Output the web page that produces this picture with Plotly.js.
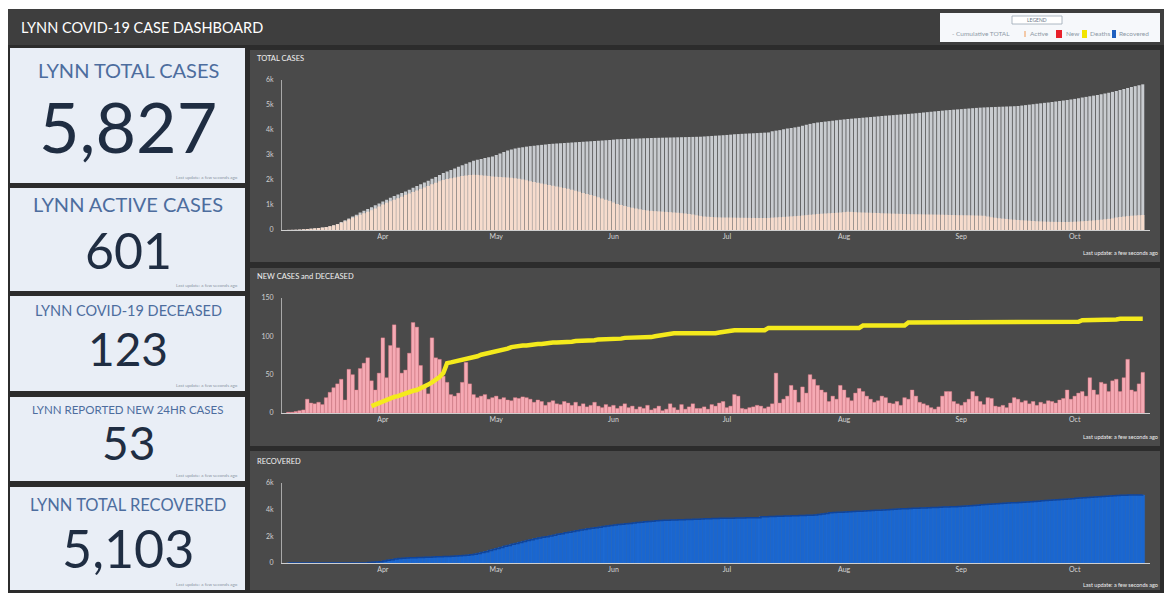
<!DOCTYPE html>
<html><head><meta charset="utf-8">
<script src="https://cdn.plot.ly/plotly-3.0.1.min.js"></script>
<style>html,body{margin:0;padding:0;background:#fff;overflow:hidden}#chart{width:1164px;height:593px}</style>
</head><body><div id="chart"></div>
<script>
// ---------- DATA (daily, starting 2020-03-07) ----------
const startDate = [2020, 2, 7];

const totalCases = [4,7,11,17,28,40,52,66,80,98,118,
150,190,240,320,
390,460,540,610,700,
770,840,910,990,
1060,1140,1210,1290,1360,
1420,1480,1540,1610,
1690,1760,1830,1900,1970,
2050,2120,2200,2280,
2340,2400,2460,2530,
2590,2650,2710,2770,2810,
2840,2880,2910,2940,
3000,3060,3120,3180,3220,
3260,3290,3310,3335,
3355,3370,3390,3405,3420,3440,
3450,3460,3470,3480,3490,3500,3510,3520,3530,
3540,3550,3560,3570,3580,3590,3600,3615,3630,
3635,3640,3645,3650,3656,3662,3668,3674,3680,
3684,3688,3692,3696,3700,3704,3708,3712,3716,3720,3724,3728,3732,
3742,3752,3762,3772,3782,3792,3802,3815,3830,
3838,3846,3854,3862,3870,3878,3886,3894,3902,
3950,3975,3995,4030,4060,4080,4105,4130,
4170,4210,4245,4275,4300,
4318,4336,4354,4372,4390,4408,4424,4440,
4453,4466,4479,4492,4505,4518,4531,4545,4560,
4572,4584,4596,4608,4620,4632,4644,4656,4670,
4685,4700,4715,4730,4745,4760,4775,4790,4800,
4812,4824,4836,4848,4860,4872,4884,4895,4903,
4910,4916,4922,4928,4934,4940,4946,4952,4960,
4978,4996,5014,5032,5050,5068,5086,5100,
5120,5140,5160,5180,5200,5222,5245,5270,5300,
5325,5350,5375,5400,5430,5460,5490,5525,5560,
5600,5640,5680,5720,5755,5790,5827];

const activeCases = [4,7,11,17,28,40,52,66,80,98,118,
150,185,230,290,
350,420,490,550,610,
670,730,790,860,
940,1020,1090,1150,1210,
1270,1330,1400,1460,
1520,1580,1640,1700,1760,
1830,1890,1950,2000,
2040,2070,2100,2130,
2160,2180,2200,2210,2205,
2190,2175,2160,2140,
2130,2120,2110,2100,2090,
2070,2050,2020,1990,
1950,1920,1890,1860,1830,1800,
1770,1740,1710,1680,1650,1610,1570,1530,1480,
1440,1400,1360,1310,1260,1210,1160,1100,1040,
1000,960,920,890,860,830,800,780,765,
755,745,735,725,715,700,690,675,660,640,620,590,560,
540,530,520,510,505,500,500,498,495,
492,490,488,486,484,482,480,480,482,
495,505,515,525,535,545,555,565,
580,595,610,625,640,
650,660,670,680,690,700,715,730,
725,715,705,700,695,690,685,680,670,
665,660,655,650,645,640,635,632,630,
628,625,622,620,618,615,612,608,600,
598,595,592,590,588,585,580,575,570,
540,510,490,470,455,440,425,412,400,
390,380,370,360,350,345,338,332,
328,325,322,320,322,326,332,340,350,
360,372,385,398,412,428,445,465,500,
520,540,555,570,580,592,601];

const newCases = [1,1,2,3,4,18,13,12,14,11,
20,27,33,38,44,17,57,50,30,58,
65,72,42,30,52,98,46,88,115,85,
52,56,78,118,112,62,36,25,98,72,
70,48,40,24,22,26,40,66,38,24,
20,22,24,18,20,22,18,20,17,16,
20,19,21,20,18,14,17,15,10,14,
16,12,11,15,13,10,14,9,12,8,
10,14,9,7,11,8,10,6,9,12,
7,9,5,8,6,10,4,6,9,3,
5,12,7,4,11,5,8,12,6,6,
8,5,11,9,13,15,7,9,24,22,
6,5,7,8,10,9,6,8,12,52,
13,18,22,36,30,14,34,26,50,44,
36,30,27,15,22,18,36,30,20,16,
26,32,28,22,18,14,16,22,20,13,
12,15,10,20,18,30,22,14,12,10,
7,5,8,22,28,28,15,12,10,14,
18,28,22,15,11,20,19,9,8,10,
7,13,20,18,14,16,12,15,10,14,
12,16,15,13,17,19,30,18,22,26,
28,22,46,30,24,40,38,28,42,44,
28,46,70,30,28,38,53];

const deaths = [null,null,null,null,null,null,null,null,null,null,null,
null,null,null,null,null,null,null,null,null,null,null,
9,11,13,15,18,
19,21,22,24,26,
27,29,30,32,34,
37,40,43,47,52,65,
66,67,68,69,70,
71,73,74,76,77,
78,79,81,82,83,84,86,87,
87,88,88,89,89,90,90,91,91,
92,92,92,93,93,93,94,94,94,95,95,95,96,96,96,97,97,
97,97,98,98,98,98,99,99,99,99,100,101,102,103,104,
104,104,104,104,104,104,104,103,103,103,104,104,105,106,107,108,
108,108,108,108,108,108,108,108,108,
111,111,111,111,111,111,111,111,111,111,111,111,111,111,111,111,111,111,111,111,111,111,111,111,111,
114,114,114,114,114,114,114,114,114,114,114,114,
118,118,118,118,118,118,118,118,118,118,118,118,118,118,118,118,118,118,118,118,118,
119,119,119,119,119,119,119,119,119,119,119,119,119,119,119,119,119,119,119,119,119,119,119,119,119,
121,121,122,122,122,122,122,122,122,122,123,123,123,123,123,123,123];

const recovered = [0,0,0,0,0,0,0,0,0,0,0,0,0,0,0,0,0,0,0,0,0,
40,60,80,100,
150,200,250,300,330,350,370,390,400,410,
420,430,440,450,460,470,480,490,500,520,540,560,590,620,660,720,790,
850,930,1010,1090,1170,1250,1320,1400,1470,
1540,1610,1680,1750,1820,1880,1930,1970,
2030,2090,2150,2200,2260,2310,2360,2420,2470,
2520,2570,2610,2650,2690,2730,2770,2810,2850,
2880,2910,2940,2970,3000,3030,3060,3090,3120,3140,3160,3180,3200,
3210,3220,3230,3240,3250,3260,3270,3280,3290,3300,3310,3320,3330,3340,3350,
3355,3360,3365,3370,3375,3380,3385,3390,3395,3400,
3470,3475,3480,3490,3500,3510,3520,3530,3540,3550,3560,3570,3580,3590,3600,
3640,3680,3720,3760,3790,3800,
3815,3830,3845,3860,3875,3890,3905,3920,3935,3950,3965,3980,3995,4010,4030,4050,
4062,4074,4086,4098,4110,4122,4134,4146,4158,4170,4182,4194,4206,4215,4220,
4240,4260,4280,4300,4320,4340,4360,4380,4400,4420,4440,4460,4480,4500,4510,4520,
4540,4560,4580,4600,4620,4640,4660,4680,4700,4720,4740,4760,4780,4800,4825,4850,
4870,4890,4910,4930,4950,4970,4990,5010,5030,5050,5065,5075,5085,5095,5100,
5100,5102,5103];

const kpiTitles = ['LYNN TOTAL CASES','LYNN ACTIVE CASES','LYNN COVID-19 DECEASED','LYNN REPORTED NEW 24HR CASES','LYNN TOTAL RECOVERED'];
const kpiValues = ['5,827','601','123','53','5,103'];
const chartTitles = ['TOTAL CASES','NEW CASES and DECEASED','RECOVERED'];
const legendItems = ['Active','New','Deaths','Recovered'];

// ---------- helpers ----------
const W = 1164, H = 593;
const PX = p => p / W, PY = p => 1 - p / H;
function datesFor(arr){
  const out = [];
  for (let i = 0; i < arr.length; i++) {
    const d = new Date(Date.UTC(startDate[0], startDate[1], startDate[2] + i));
    out.push(d.toISOString().slice(0,10));
  }
  return out;
}
const DAY = 86400000;
const FONT = 'Lato, "Open Sans", sans-serif';

const traces = [
  {type:'bar', x:datesFor(totalCases), y:totalCases, xaxis:'x', yaxis:'y',
   marker:{color:'#c9ccd0', line:{width:0}}, width:0.8*DAY, hoverinfo:'skip'},
  {type:'bar', x:datesFor(activeCases), y:activeCases, xaxis:'x', yaxis:'y',
   marker:{color:'#f7dccd', line:{width:0}}, width:0.85*DAY, hoverinfo:'skip'},
  {type:'bar', x:datesFor(newCases), y:newCases, xaxis:'x2', yaxis:'y2',
   marker:{color:'#f5aab4', line:{color:'#e77c88', width:0.4}}, width:0.95*DAY, hoverinfo:'skip'},
  {type:'scatter', mode:'lines', x:datesFor(deaths), y:deaths, xaxis:'x2', yaxis:'y2',
   line:{color:'#f4ea1c', width:4.5}, hoverinfo:'skip'},
  {type:'bar', x:datesFor(recovered), y:recovered, xaxis:'x3', yaxis:'y3',
   marker:{color:'#1a66cf', line:{color:'#2a78de', width:0.3}}, width:1.0*DAY, hoverinfo:'skip'},
  {type:'scatter', mode:'lines', x:datesFor(recovered), y:recovered, xaxis:'x3', yaxis:'y3',
   line:{color:'#10449a', width:1.5, shape:'hv'}, hoverinfo:'skip'}
];

const xRange = ['2020-03-05 08:00','2020-10-20 22:00'];
function xAx(anchor){
  return {domain:[PX(282), PX(1150)], anchor:anchor, type:'date', range:xRange,
    tick0:'2020-04-01', dtick:'M1', tickformat:'%b', showgrid:false, zeroline:false,
    showline:true, linecolor:'#cfcfcf', linewidth:1, ticks:'',
    tickfont:{family:FONT, size:7, color:'#d6d6d6'}, fixedrange:true};
}
function yAx(anchor, dom, range, dtick, fmt){
  return {domain:dom, anchor:anchor, range:range, dtick:dtick, tickformat:fmt,
    showgrid:false, zeroline:false, showline:true, linecolor:'#a9a9a9', linewidth:1,
    ticks:'', tickfont:{family:FONT, size:7, color:'#d0d0d0'}, ticklabelstandoff:6, fixedrange:true};
}

const shapes = [];
function rect(x0,y0,x1,y1,fill,line){
  shapes.push({type:'rect', xref:'paper', yref:'paper', layer:'below',
    x0:PX(x0), x1:PX(x1), y0:PY(y1), y1:PY(y0), fillcolor:fill,
    line: line || {width:0}});
}
rect(8, 9, 1164, 593, '#2c2c2c');
rect(8, 9, 1164, 45, '#3e3e3e');
rect(250, 50, 1160, 262, '#4a4a4a');
rect(250, 268, 1160, 446, '#4a4a4a');
rect(250, 451, 1160, 590, '#4a4a4a');
const tiles = [[48,183],[188,291],[296,391],[397,481],[487,590]];
tiles.forEach(t => rect(10, t[0], 245, t[1], '#e9eef6'));
rect(940, 13, 1160, 42, '#f6f8fb');
rect(1012, 16, 1062, 24, '#ffffff', {color:'#9aa6b4', width:0.8});
// legend swatches
rect(1024, 31, 1026, 37, '#f3c9a8');
rect(1056, 30, 1062, 38, '#e8202a');
rect(1082, 30, 1087, 38, '#f2e400');
rect(1112, 30, 1116, 38, '#1f5fbf');

const ann = [];
function txt(text, x, y, size, color, anchor, extra){
  ann.push(Object.assign({text:text, xref:'paper', yref:'paper', x:PX(x), y:PY(y),
    xanchor:anchor||'left', yanchor:'middle', showarrow:false,
    font:{family:FONT, size:size, color:color}}, extra||{}));
}
txt('LYNN COVID-19 CASE DASHBOARD', 19, 28, 14.5, '#ffffff');
txt('LEGEND', 1037, 20, 5, '#6b7888', 'center');
txt('- Cumulative TOTAL', 950, 34, 6.5, '#8d98a6');
txt(legendItems[0], 1028, 34, 6.5, '#8d98a6');
txt(legendItems[1], 1064, 34, 6.5, '#8d98a6');
txt(legendItems[2], 1088, 34, 6.5, '#8d98a6');
txt(legendItems[3], 1117, 34, 6.5, '#8d98a6');

const titleY = [70, 204, 310, 409, 505];
const titleSize = [20, 20, 14.5, 11.5, 16.5];
const valY = [126, 250, 348, 442, 548];
const valSize = [70, 50, 46, 46, 52];
for (let i = 0; i < 5; i++) {
  txt(kpiTitles[i], 128, titleY[i], titleSize[i], '#4d6d9e', 'center');
  txt(kpiValues[i], 128, valY[i], valSize[i], '#1f2d42', 'center');
  txt('Last update: a few seconds ago', 240, tiles[i][1] - 6, 4.5, '#8b95a3', 'right');
}
txt(chartTitles[0], 255, 58, 7.5, '#f2f2f2');
txt(chartTitles[1], 255, 276, 7.5, '#f2f2f2');
txt(chartTitles[2], 255, 461, 7.5, '#f2f2f2');
txt('Last update: a few seconds ago', 1160, 253, 5.5, '#f0f0f0', 'right');
txt('Last update: a few seconds ago', 1160, 437, 5.5, '#f0f0f0', 'right');
txt('Last update: a few seconds ago', 1160, 585, 5.5, '#f0f0f0', 'right');

const layout = {
  width:W, height:H, margin:{l:0,r:0,t:0,b:0,pad:0},
  paper_bgcolor:'#ffffff', plot_bgcolor:'rgba(0,0,0,0)',
  showlegend:false, barmode:'overlay',
  xaxis:xAx('y'), yaxis:yAx('x', [PY(230), PY(80)], [0,6000], 1000, '~s'),
  xaxis2:xAx('y2'), yaxis2:yAx('x2', [PY(413), PY(298)], [0,150], 50, ''),
  xaxis3:xAx('y3'), yaxis3:yAx('x3', [PY(563), PY(483)], [0,6000], 2000, '~s'),
  shapes:shapes, annotations:ann
};
Plotly.newPlot('chart', traces, layout, {staticPlot:true, displayModeBar:false});
</script></body></html>
